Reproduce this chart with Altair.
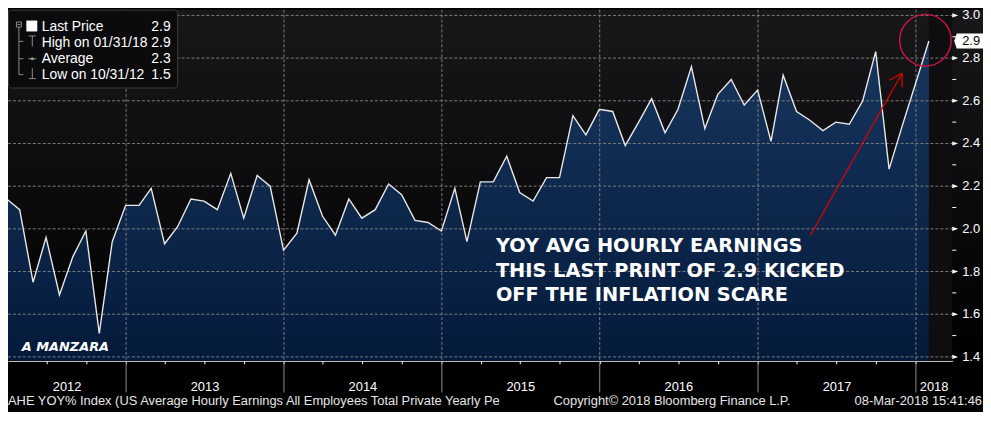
import altair as alt
import pandas as pd

# ---------------- data ----------------
values = [2.14, 2.09, 1.75, 1.96, 1.69, 1.87, 1.99, 1.51, 1.94, 2.11,
          2.11, 2.19, 1.93, 2.01, 2.14, 2.13, 2.09, 2.26, 2.05, 2.25,
          2.20, 1.90, 1.98, 2.23, 2.06, 1.97, 2.14, 2.05, 2.09, 2.21,
          2.16, 2.04, 2.03, 1.99, 2.19, 1.94, 2.22, 2.22, 2.34, 2.17,
          2.13, 2.24, 2.24, 2.53, 2.44, 2.56, 2.55, 2.39, 2.50, 2.61,
          2.45, 2.56, 2.76, 2.47, 2.63, 2.70, 2.58, 2.65, 2.41, 2.72,
          2.55, 2.51, 2.46, 2.50, 2.49, 2.60, 2.83, 2.28, 2.48, 2.68, 2.88]
dates = pd.date_range("2012-03-01", periods=len(values), freq="MS") + pd.offsets.MonthEnd(0)
years = [2012, 2013, 2014, 2015, 2016, 2017, 2018]
y_major = [1.4, 1.6, 1.8, 2.0, 2.2, 2.4, 2.6, 2.8, 3.0]
y_minor = [1.5, 1.7, 1.9, 2.1, 2.3, 2.5, 2.7, 2.9]
annotation = ["YOY AVG HOURLY EARNINGS", "THIS LAST PRINT OF 2.9 KICKED", "OFF THE INFLATION SCARE"]
footer_left = "AHE YOY% Index (US Average Hourly Earnings All Employees Total Private Yearly Pe"
footer_mid = "Copyright\u00a9 2018 Bloomberg Finance L.P."
footer_right = "08-Mar-2018 15:41:46"

df = pd.DataFrame({"date": dates, "value": values})
last_val = values[-1]
imax = max(range(len(values)), key=lambda i: values[i])
imin = min(range(len(values)), key=lambda i: values[i])
avg = sum(values) / len(values)

# ---------------- layout ----------------
W, H = 952, 354
FONT = "Liberation Sans"
one = pd.DataFrame({"k": [0]})

def DT(y, m, d):
    return alt.DateTime(year=y, month=m, date=d)

x_scale = alt.Scale(domain=[DT(2012, 4, 3), DT(2018, 3, 26)])
y_scale = alt.Scale(domain=[1.382, 3.027], zero=False, nice=False)
X = alt.X("date:T", scale=x_scale, title=None)
Y = alt.Y("value:Q", scale=y_scale, title=None)

quarters = pd.date_range("2012-04-01", "2018-01-01", freq="QS")
quarter_vals = [DT(d.year, d.month, d.day) for d in quarters]

year_starts = pd.DataFrame({"date": [pd.Timestamp(f"{y}-01-01") for y in years[1:]]})
vis_start = pd.Timestamp("2012-04-03")
vis_end = pd.Timestamp("2018-03-26")
mids = []
for y in years:
    a = max(pd.Timestamp(f"{y}-01-01"), vis_start)
    b = min(pd.Timestamp(f"{y + 1}-01-01"), vis_end)
    mids.append(a + (b - a) / 2)
year_labels = pd.DataFrame({"date": mids, "label": [str(y) for y in years]})

# legend offset (pixels)
LX, LY = -3, -3

def prule(x1, y1, x2, y2, color="#8c8c8c", width=1):
    return alt.Chart(one).mark_rule(color=color, strokeWidth=width).encode(
        x=alt.value(x1 + LX), x2=alt.value(x2 + LX), y=alt.value(y1 + LY), y2=alt.value(y2 + LY))

def ptext(txt, x, y, size=13, color="#ffffff", align="left", font=FONT):
    return alt.Chart(one).mark_text(text=txt, align=align, baseline="alphabetic", fontSize=size,
                                    font=font, color=color).encode(
        x=alt.value(x), y=alt.value(y))

layers = []

# background gradient over data span
bg_grad = alt.Gradient(gradient="linear", x1=0, x2=0, y1=0, y2=1,
                       stops=[alt.GradientStop(color="#18181b", offset=0),
                              alt.GradientStop(color="#000000", offset=1)])
layers.append(alt.Chart(one).mark_rect(color=bg_grad).encode(
    x=alt.value(0), x2=alt.datum(DT(2018, 1, 31)), y=alt.value(0), y2=alt.value(H)))
layers.append(alt.Chart(one).mark_rect(color="#0e0e11").encode(
    x=alt.datum(DT(2018, 1, 31)), x2=alt.value(W), y=alt.value(0), y2=alt.value(H)))

# area
area_grad = alt.Gradient(gradient="linear", x1=0, x2=0, y1=0, y2=1,
                         stops=[alt.GradientStop(color="#18365e", offset=0),
                                alt.GradientStop(color="#041a3b", offset=1)])
layers.append(alt.Chart(df).mark_area(color=area_grad, clip=True).encode(
    x=X, y=Y, y2=alt.datum(1.382)))

# dashed grid
layers.append(alt.Chart(pd.DataFrame({"value": y_major})).mark_rule(
    color="#7c7c7c", strokeDash=[3, 2], strokeWidth=1).encode(
    y=Y, x=alt.value(0), x2=alt.value(W)))
layers.append(alt.Chart(year_starts).mark_rule(
    color="#7c7c7c", strokeDash=[3, 2], strokeWidth=1).encode(
    x=X, y=alt.value(0), y2=alt.value(H)))

# main line with axes
layers.append(alt.Chart(df).mark_line(color="#e8e8e8", strokeWidth=1.4, clip=True).encode(
    x=alt.X("date:T", scale=x_scale, title=None,
            axis=alt.Axis(values=quarter_vals, labels=False, ticks=True, tickSize=3,
                          tickColor="#ffffff", domainColor="#ffffff", grid=False, title=None)),
    y=alt.Y("value:Q", scale=y_scale, title=None,
            axis=alt.Axis(orient="right", values=y_major, ticks=False, grid=False, labels=False,
                          domainColor="#ffffff", title=None))))

# annotations
layers.append(alt.Chart(one).mark_text(
    text="\n".join(annotation), lineBreak="\n", lineHeight=24.5, align="left", baseline="alphabetic",
    font="DejaVu Sans", fontWeight="bold", fontSize=19.5, color="#ffffff").encode(
    x=alt.datum(DT(2015, 5, 6)), y=alt.datum(1.890)))
layers.append(alt.Chart(one).mark_text(
    text="A MANZARA", align="left", baseline="alphabetic", font="DejaVu Sans",
    fontWeight="bold", fontStyle="italic", fontSize=13, color="#ffffff").encode(
    x=alt.datum(DT(2012, 5, 5)), y=alt.datum(1.430)))
arrow_red = "#e00000"
for (d1, v1, d2, v2) in [((2017, 5, 2), 1.969, (2017, 11, 30), 2.729),
                         ((2017, 10, 31), 2.696, (2017, 11, 30), 2.729),
                         ((2017, 11, 30), 2.664, (2017, 11, 30), 2.729)]:
    layers.append(alt.Chart(one).mark_rule(color=arrow_red, strokeWidth=1.3).encode(
        x=alt.datum(DT(*d1)), x2=alt.datum(DT(*d2)), y=alt.datum(v1), y2=alt.datum(v2)))
layers.append(alt.Chart(one).mark_point(shape="circle", size=2704, filled=False,
                                        color="#c8143c", strokeWidth=1.5, opacity=1).encode(
    x=alt.datum(DT(2018, 1, 23)), y=alt.datum(2.884)))

# legend box
layers.append(alt.Chart(one).mark_rect(fill="#0b0b0d", stroke="#3c3c3c", strokeWidth=1,
                                       cornerRadius=3).encode(
    x=alt.value(3.5 + LX), x2=alt.value(174 + LX), y=alt.value(3.5 + LY), y2=alt.value(82 + LY)))
layers.append(alt.Chart(one).mark_rect(fill="#0b0b0d", stroke="#8c8c8c", strokeWidth=1).encode(
    x=alt.value(11.5 + LX), x2=alt.value(16.5 + LX), y=alt.value(15.5 + LY), y2=alt.value(20.5 + LY)))
layers.append(prule(12.5, 18, 15.5, 18))
layers.append(prule(14, 20.5, 14, 68.5))
for yy in (35, 52.5, 68.5):
    layers.append(prule(14, yy, 18.5, yy))
layers.append(alt.Chart(one).mark_rect(fill="#ffffff").encode(
    x=alt.value(21.5 + LX), x2=alt.value(32.5 + LX), y=alt.value(14 + LY), y2=alt.value(25 + LY)))
layers.append(prule(24, 29.5, 31, 29.5))
layers.append(prule(27.5, 29.5, 27.5, 40))
layers.append(prule(23.5, 52.5, 31.5, 52.5))
layers.append(alt.Chart(one).mark_point(shape="circle", size=10, filled=True, color="#9a9a9a",
                                        opacity=1).encode(x=alt.value(27.5 + LX), y=alt.value(52.5 + LY)))
layers.append(prule(27.5, 62, 27.5, 72.5))
layers.append(prule(24, 72.5, 31, 72.5))

rows = [("Last Price", last_val, 25),
        ("High on " + dates[imax].strftime("%m/%d/%y"), values[imax], 40.5),
        ("Average", avg, 56.5),
        ("Low on " + dates[imin].strftime("%m/%d/%y"), values[imin], 72.5)]
for label, v, yy in rows:
    layers.append(ptext(label, 37 + LX, yy + LY, size=14))
    layers.append(ptext(f"{v:.1f}", 167 + LX, yy + LY, size=14, align="right"))

# right axis decorations
ylab = pd.DataFrame({"value": y_major, "label": [f"{v:.1f}" for v in y_major]})
layers.append(alt.Chart(pd.DataFrame({"value": y_minor})).mark_rule(color="#ffffff").encode(
    y=Y, x=alt.value(W), x2=alt.value(W + 4)))
layers.append(alt.Chart(ylab).mark_point(
    shape="M-1,-0.7L1,0L-1,0.7Z", filled=True, size=36, color="#ffffff", opacity=1).encode(
    y=Y, x=alt.value(W + 3)))
layers.append(alt.Chart(ylab).mark_text(align="left", baseline="middle", fontSize=13,
                                        font=FONT, color="#ffffff").encode(
    y=Y, x=alt.value(W + 10), text="label:N"))
last_df = pd.DataFrame({"value": [last_val], "label": [f"{last_val:.1f}"]})
layers.append(alt.Chart(last_df).mark_point(
    shape="M-0.97,0L-0.8,-0.5L0.97,-0.5L0.97,0.5L-0.8,0.5Z", filled=True, size=900,
    color="#ffffff", opacity=1, strokeWidth=0).encode(y=Y, x=alt.value(W + 16.5)))
layers.append(alt.Chart(last_df).mark_text(align="left", baseline="middle", fontSize=13,
                                           font=FONT, color="#000000").encode(
    y=Y, x=alt.value(W + 10), text="label:N"))

# bottom axis decorations
layers.append(alt.Chart(year_starts).mark_rule(color="#8c8c8c").encode(
    x=X, y=alt.value(H), y2=alt.value(H + 32)))
layers.append(alt.Chart(year_labels).mark_text(align="center", baseline="alphabetic", fontSize=13,
                                               font=FONT, color="#ffffff").encode(
    x=X, y=alt.value(H + 30), text="label:N"))
layers.append(ptext(footer_left, 0, H + 45, size=13, color="#e6e6e6"))
layers.append(ptext(footer_mid, 550, H + 45, size=13, color="#e6e6e6"))
layers.append(ptext(footer_right, 982, H + 45, size=13, color="#e6e6e6", align="right"))

chart = alt.layer(*layers).properties(
    width=W, height=H,
    autosize=alt.AutoSizeParams(type="none"),
    padding={"left": 0, "top": 0, "right": 31, "bottom": 50},
).configure(background="#000000").configure_view(strokeWidth=0)

chart.save("out.html", embed_options={"renderer": "svg", "actions": False})
